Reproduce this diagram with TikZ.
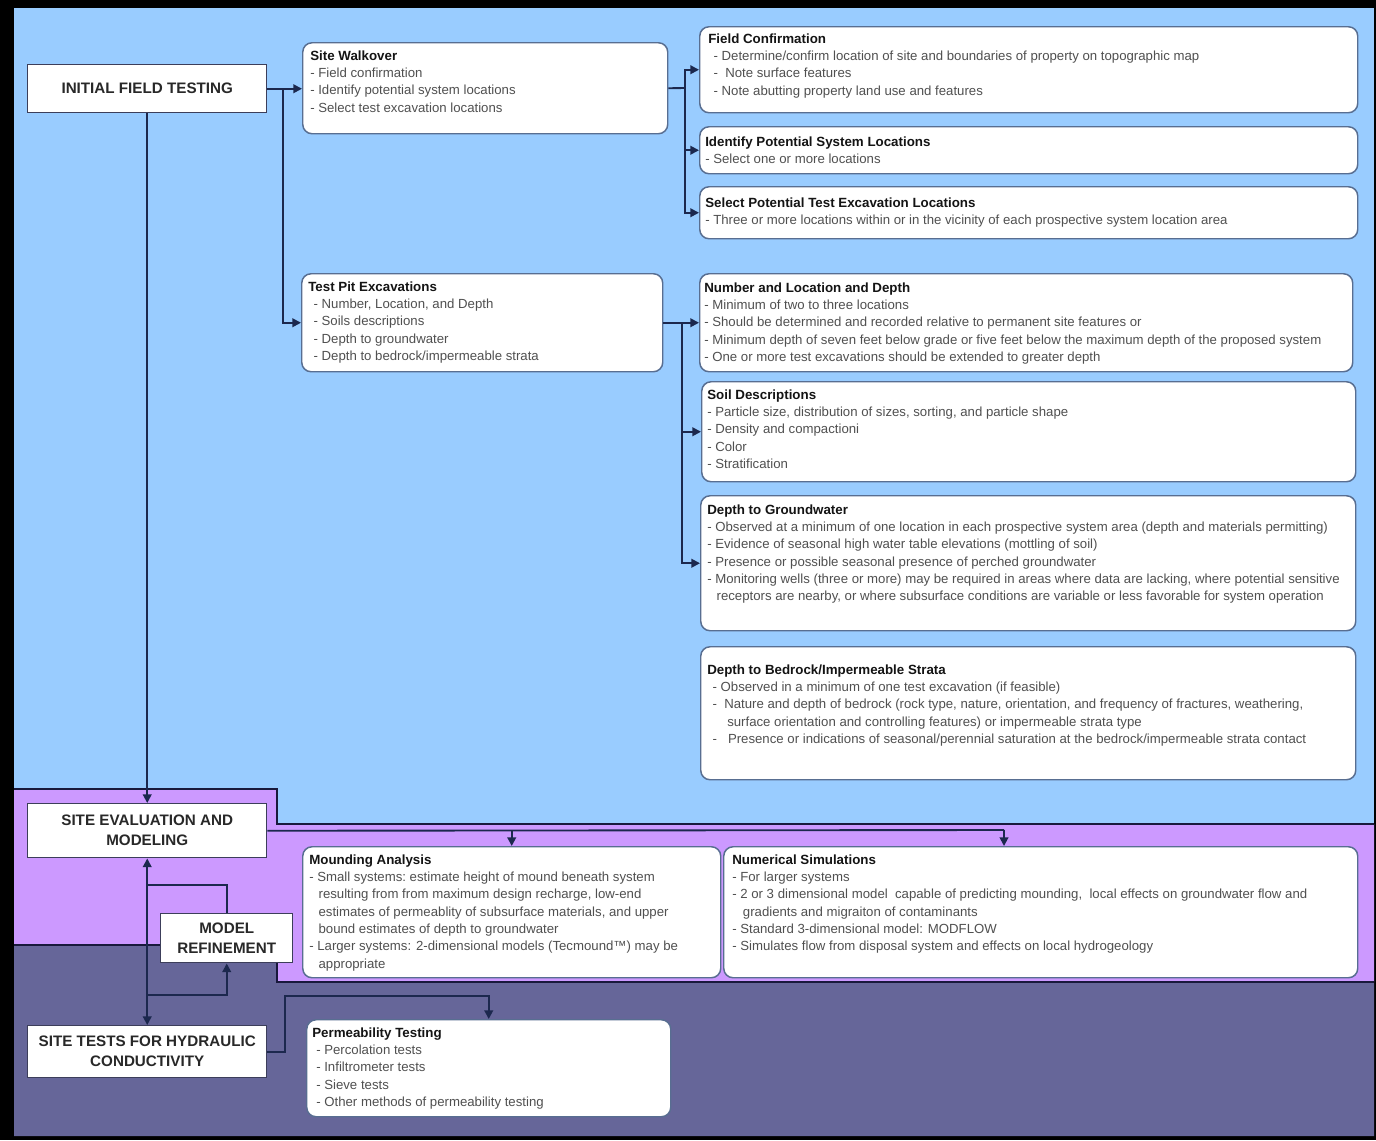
\documentclass[tikz,border=0pt]{standalone}
\usepackage{fontspec}
\setmainfont{Liberation Sans}
\usetikzlibrary{arrows.meta}

\definecolor{skyband}{RGB}{153,204,255}
\definecolor{lilacband}{RGB}{204,153,255}
\definecolor{slateband}{RGB}{102,102,153}
\definecolor{bandline}{RGB}{25,25,60}
\definecolor{wire}{RGB}{28,40,78}
\definecolor{roundedge}{RGB}{88,110,145}
\definecolor{stageedge}{RGB}{60,62,90}
\definecolor{itemgray}{RGB}{80,80,80}
\definecolor{headink}{RGB}{20,20,20}
\definecolor{stageink}{RGB}{40,40,40}

\tikzset{
  stage/.style={draw=stageedge, line width=1.1pt, fill=white, inner sep=0pt,
    anchor=north west, align=center, text=stageink,
    font=\fontsize{11.4}{15}\selectfont\bfseries},
  detail/.style={draw=roundedge, line width=1.1pt, fill=white,
    rounded corners=7pt, inner sep=0pt, anchor=north west},
  notes/.style={inner sep=0pt, anchor=base west, text=itemgray,
    font=\fontsize{9.9}{13}\selectfont},
  link/.style={draw=wire, line width=1.4pt},
  tolink/.style={link, -{Triangle[length=6.5pt,width=6.5pt]}},
  bothlink/.style={link, {Triangle[length=6.5pt,width=6.5pt]}-{Triangle[length=6.5pt,width=6.5pt]}},
  band/.style={draw=bandline, line width=1.8pt},
}

% square stage box: name, x1, y1, x2, y2, label
\newcommand\stagebox[6]{\node[stage, minimum width={(#4-#2)*0.75pt},
  minimum height={(#5-#3)*0.75pt}] (#1) at (#2,#3) {#6};}
% rounded info box: name, x1, y1, x2, y2
\newcommand\infobox[5]{\node[detail, minimum width={(#4-#2)*0.75pt},
  minimum height={(#5-#3)*0.75pt}] (#1) at (#2,#3) {};}
% text block: name, x, first baseline, rows
\newcommand\infotext[4]{\node[notes] (#1) at (#2,#3)
  {\begin{tabular}[t]{@{}l@{}}#4\end{tabular}};}
\newcommand\boxhead[1]{{\fontsize{10}{13}\selectfont\bfseries\color{headink}#1}}

\begin{document}
\begin{tikzpicture}[x=0.75pt,y=-0.75pt]
\useasboundingbox (0,0) rectangle (1376,1140);

% frame and the three coloured bands
\fill[black] (0,0) rectangle (1376,1140);
\fill[skyband] (14,8) rectangle (1374,824);
\fill[lilacband] (14,789) -- (277,789) -- (277,824) -- (1374,824) -- (1374,982)
  -- (277,982) -- (277,945) -- (14,945) -- cycle;
\fill[slateband] (14,945) -- (277,945) -- (277,982) -- (1374,982) -- (1374,1136)
  -- (14,1136) -- cycle;
\draw[band] (14,789) -- (277,789) -- (277,824) -- (1374,824);
\draw[band] (14,945) -- (277,945) -- (277,982) -- (1374,982);

% stages
\stagebox{ift}{27}{64}{266}{112}{INITIAL FIELD TESTING}
\stagebox{sem}{27}{803}{266}{857}{SITE EVALUATION AND\\MODELING}
\stagebox{mr}{160}{913}{292}{962}{MODEL\\REFINEMENT}
\stagebox{st}{27}{1025}{266}{1077}{SITE TESTS FOR HYDRAULIC\\CONDUCTIVITY}

% info boxes
\infobox{sw}{302}{42}{667}{133}
\infobox{fc}{699}{26}{1357}{112}
\infobox{ipl}{699}{126}{1357}{173}
\infobox{spt}{699}{186}{1357}{238}
\infobox{tp}{301}{273}{662}{371}
\infobox{nld}{699}{273}{1352}{371}
\infobox{sd}{701}{381}{1355}{481}
\infobox{dg}{700}{495}{1355}{630}
\infobox{db}{700}{646}{1355}{779}
\infobox{ma}{302}{846}{720}{977}
\infobox{ns}{723}{846}{1357}{977}
\infobox{pt}{306}{1019}{670}{1116}

\infotext{swtext}{310}{60}{\boxhead{Site Walkover}\\
- Field confirmation\\
- Identify potential system locations\\
- Select test excavation locations}

\infotext{fctext}{708}{43}{\boxhead{Field Confirmation}\\
\hspace{4pt}- Determine/confirm location of site and boundaries of property on topographic map\\
\hspace{4pt}- \ Note surface features\\
\hspace{4pt}- Note abutting property land use and features}

\infotext{ipltext}{705}{146}{\boxhead{Identify Potential System Locations}\\
- Select one or more locations}

\infotext{spttext}{705}{207}{\boxhead{Select Potential Test Excavation Locations}\\
- Three or more locations within or in the vicinity of each prospective system location area}

\infotext{tptext}{308}{291}{\boxhead{Test Pit Excavations}\\
\hspace{4pt}- Number, Location, and Depth\\
\hspace{4pt}- Soils descriptions\\
\hspace{4pt}- Depth to groundwater\\
\hspace{4pt}- Depth to bedrock/impermeable strata}

\infotext{nldtext}{704}{292}{\boxhead{Number and Location and Depth}\\
- Minimum of two to three locations\\
- Should be determined and recorded relative to permanent site features or\\
- Minimum depth of seven feet below grade or five feet below the maximum depth of the proposed system\\
- One or more test excavations should be extended to greater depth}

\infotext{sdtext}{707}{399}{\boxhead{Soil Descriptions}\\
- Particle size, distribution of sizes, sorting, and particle shape\\
- Density and compactioni\\
- Color\\
- Stratification}

\infotext{dgtext}{707}{514}{\boxhead{Depth to Groundwater}\\
- Observed at a minimum of one location in each prospective system area (depth and materials permitting)\\
- Evidence of seasonal high water table elevations (mottling of soil)\\
- Presence or possible seasonal presence of perched groundwater\\
- Monitoring wells (three or more) may be required in areas where data are lacking, where potential sensitive\\
\hspace{7pt}receptors are nearby, or where subsurface conditions are variable or less favorable for system operation}

\infotext{dbtext}{707}{674}{\boxhead{Depth to Bedrock/Impermeable Strata}\\
\hspace{4pt}- Observed in a minimum of one test excavation (if feasible)\\
\hspace{4pt}- \ Nature and depth of bedrock (rock type, nature, orientation, and frequency of fractures, weathering,\\
\hspace{15pt}surface orientation and controlling features) or impermeable strata type\\
\hspace{4pt}- \ \ Presence or indications of seasonal/perennial saturation at the bedrock/impermeable strata contact}

\infotext{matext}{309}{864}{\boxhead{Mounding Analysis}\\
- Small systems:\ estimate height of mound beneath system\\
\hspace{7pt}resulting from from maximum design recharge, low-end\\
\hspace{7pt}estimates of permeablity of subsurface materials, and upper\\
\hspace{7pt}bound estimates of depth to groundwater\\
- Larger systems: 2-dimensional models (Tecmound™) may be\\
\hspace{7pt}appropriate}

\infotext{nstext}{732}{864}{\boxhead{Numerical Simulations}\\
- For larger systems\\
- 2 or 3 dimensional model \ capable of predicting mounding, \ local effects on groundwater flow and\\
\hspace{8pt}gradients and migraiton of contaminants\\
- Standard 3-dimensional model: MODFLOW\\
- Simulates flow from disposal system and effects on local hydrogeology}

\infotext{pttext}{312}{1037}{\boxhead{Permeability Testing}\\
\hspace{3pt}- Percolation tests\\
\hspace{3pt}- Infiltrometer tests\\
\hspace{3pt}- Sieve tests\\
\hspace{3pt}- Other methods of permeability testing}

% junction points of the connector trunks
\coordinate (trunkA) at (283,88);
\coordinate (trunkB) at (685,88);
\coordinate (trunkC) at (682,322);
\coordinate (busEnd) at (1004,830);
\coordinate (loopTop) at (147,885);
\coordinate (loopBot) at (147,995);
\coordinate (bend) at (285,996);

% initial field testing
\draw[tolink] (ift.east) -- (ift.east -| sw.west);
\draw[tolink] (trunkA) |- (tp.west);
\draw[tolink] (ift.south) -- (sem.north);

% site walkover branches
\draw[link] (sw.east) -- (trunkB);
\draw[tolink] (trunkB) |- (fc.west);
\draw[tolink] (trunkB) |- (ipl.west);
\draw[tolink] (trunkB) |- (spt.west);

% test pit branches
\draw[tolink] (tp.east) -- (nld.west);
\draw[tolink] (trunkC) |- (sd.west);
\draw[tolink] (trunkC) |- (dg.west);

% evaluation and modeling
\draw[link] (sem.east) -- (busEnd);
\draw[tolink] (sem.east -| ma.north) -- (ma.north);
\draw[tolink] (busEnd) -- (busEnd |- ns.north);
\draw[bothlink] (sem.south) -- (st.north);
\draw[link] (loopTop) -| (mr.north);
\draw[tolink] (loopBot) -| (mr.south);

% hydraulic conductivity tests
\draw[tolink] (st.east) -| (bend) -| (pt.north);
\end{tikzpicture}
\end{document}
